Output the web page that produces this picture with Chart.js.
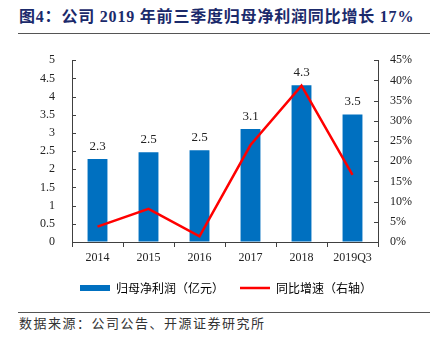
<!DOCTYPE html>
<html>
<head>
<meta charset="utf-8">
<script src="https://cdn.jsdelivr.net/npm/chart.js@4/dist/chart.umd.min.js"></script>
<style>
  body { margin: 0; width: 440px; height: 341px; background: #fff; position: relative; overflow: hidden; }
  #title { position: absolute; left: 19px; top: 7px; font: bold 16px "Liberation Serif", "Noto Sans CJK SC"; color: #1b2a6b; white-space: nowrap; line-height: 20px; letter-spacing: 0.8px; }
  .rule { position: absolute; left: 18px; width: 412px; height: 1px; background: #555; }
  #source { position: absolute; left: 19px; top: 315px; font: 13px "Noto Sans CJK SC"; color: #333; white-space: nowrap; line-height: 16px; letter-spacing: 1.5px; }
  #wrap { position: absolute; left: 6px; top: 36px; width: 440px; height: 269px; }
</style>
</head>
<body>
<div id="title">图4：公司 2019 年前三季度归母净利润同比增长 17%</div>
<div class="rule" style="top:33px"></div>
<div id="wrap"><canvas id="chart"></canvas></div>
<div class="rule" style="top:312px"></div>
<div id="source">数据来源：公司公告、开源证券研究所</div>
<script>
const YEARS = ['2014', '2015', '2016', '2017', '2018', '2019Q3'];
const PROFIT = [2.28, 2.47, 2.52, 3.11, 4.31, 3.51];   // 亿元
const GROWTH = [3.8, 8.2, 1.4, 24.0, 38.7, 16.6];     // %
const BLUE = '#0070c0';
const RED = '#ff0000';
const AXIS = '#404040';

const serif = size => ({ family: '"Liberation Serif", "Times New Roman"', size: size });

// bar value labels + tick marks pointing into the plot
const extras = {
  id: 'extras',
  afterDatasetsDraw(chart) {
    const ctx = chart.ctx;
    ctx.save();
    ctx.font = '13px "Liberation Serif"';
    ctx.fillStyle = '#222';
    ctx.textAlign = 'center';
    ctx.textBaseline = 'alphabetic';
    chart.getDatasetMeta(1).data.forEach((bar, i) => {
      ctx.fillText(PROFIT[i].toFixed(1), bar.x, bar.y - 9);
    });
    ctx.strokeStyle = AXIS;
    ctx.lineWidth = 1;
    const left = chart.scales.y, right = chart.scales.y1;
    left.ticks.forEach(t => {
      const y = Math.round(left.getPixelForValue(t.value)) + 0.5;
      ctx.beginPath(); ctx.moveTo(left.right, y); ctx.lineTo(left.right + 4, y); ctx.stroke();
    });
    right.ticks.forEach(t => {
      const y = Math.round(right.getPixelForValue(t.value)) + 0.5;
      ctx.beginPath(); ctx.moveTo(right.left - 4, y); ctx.lineTo(right.left, y); ctx.stroke();
    });
    ctx.restore();
  }
};

new Chart(document.getElementById('chart'), {
  type: 'bar',
  data: {
    labels: YEARS,
    datasets: [
      {
        type: 'line',
        label: '同比增速（右轴）',
        data: GROWTH,
        yAxisID: 'y1',
        borderColor: RED,
        borderWidth: 2.5,
        pointRadius: 0,
        tension: 0,
        order: 0
      },
      {
        type: 'bar',
        label: '归母净利润（亿元）',
        data: PROFIT,
        yAxisID: 'y',
        backgroundColor: BLUE,
        barPercentage: 0.39,
        categoryPercentage: 1,
        order: 1
      }
    ]
  },
  options: {
    responsive: true,
    maintainAspectRatio: false,
    animation: false,
    layout: { padding: { top: 7, bottom: 1 } },
    plugins: {
      tooltip: { enabled: false },
      legend: {
        position: 'bottom',
        labels: {
          usePointStyle: true,
          pointStyleWidth: 30,
          boxHeight: 6,
          padding: 10,
          color: '#333',
          font: { family: '"Noto Sans CJK SC"', size: 12 },
          generateLabels: () => [
            { text: '归母净利润（亿元）　', fillStyle: BLUE, strokeStyle: BLUE, lineWidth: 0, pointStyle: 'rect', hidden: false, datasetIndex: 1 },
            { text: '同比增速（右轴）', fillStyle: RED, strokeStyle: RED, lineWidth: 2.5, pointStyle: 'line', hidden: false, datasetIndex: 0 }
          ]
        }
      }
    },
    scales: {
      x: {
        grid: { offset: true, drawOnChartArea: false, drawTicks: true, tickLength: 5, color: AXIS },
        border: { color: AXIS },
        ticks: { color: '#222', font: serif(12), padding: 4 },
        afterFit: s => { s.height = 30; }
      },
      y: {
        position: 'left',
        min: 0, max: 5,
        ticks: { stepSize: 0.5, autoSkip: false, color: '#222', font: serif(12), padding: 17, callback: v => String(v) },
        grid: { display: true, drawOnChartArea: false, drawTicks: false },
        border: { color: AXIS },
        afterFit: s => { s.width = 66; }
      },
      y1: {
        position: 'right',
        min: 0, max: 45,
        ticks: { stepSize: 5, autoSkip: false, color: '#222', font: serif(12), padding: 12, callback: v => v + '%' },
        grid: { display: true, drawOnChartArea: false, drawTicks: false },
        border: { color: AXIS },
        afterFit: s => { s.width = 68; }
      }
    }
  },
  plugins: [extras]
});
</script>
</body>
</html>
